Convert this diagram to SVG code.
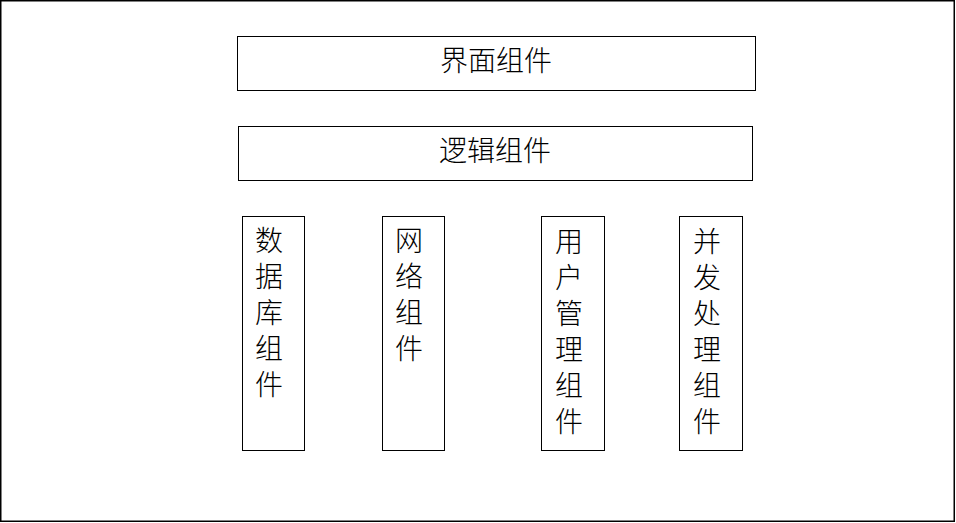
<svg xmlns="http://www.w3.org/2000/svg" width="956" height="523" viewBox="0 0 956 523">
<style>
rect{fill:#fff;stroke:#000;stroke-width:1}
text{font-family:"Noto Sans CJK SC","Noto Sans",sans-serif;font-size:28px;fill:#000;font-weight:300}
.c{text-anchor:middle}
.v{writing-mode:vertical-rl;text-orientation:upright;letter-spacing:8px}
</style>
<rect x="0.75" y="0.75" width="953.5" height="520.5" style="stroke-width:1.5"/>
<g id="ui"><rect x="237.5" y="36.5" width="518" height="54"/><text class="c" x="496" y="71">界面组件</text></g>
<g id="logic"><rect x="238.5" y="126.5" width="514" height="54"/><text class="c" x="495" y="161">逻辑组件</text></g>
<g id="db"><rect x="242.5" y="216.5" width="62" height="234"/><text class="v" x="269" y="226">数据库组件</text></g>
<g id="net"><rect x="382.5" y="216.5" width="62" height="234"/><text class="v" x="409" y="226">网络组件</text></g>
<g id="user"><rect x="541.5" y="216.5" width="63" height="234"/><text class="v" x="569" y="227">用户管理组件</text></g>
<g id="conc"><rect x="679.5" y="216.5" width="63" height="234"/><text class="v" x="707" y="227">并发处理组件</text></g>
<g id="connectors"/>
</svg>
